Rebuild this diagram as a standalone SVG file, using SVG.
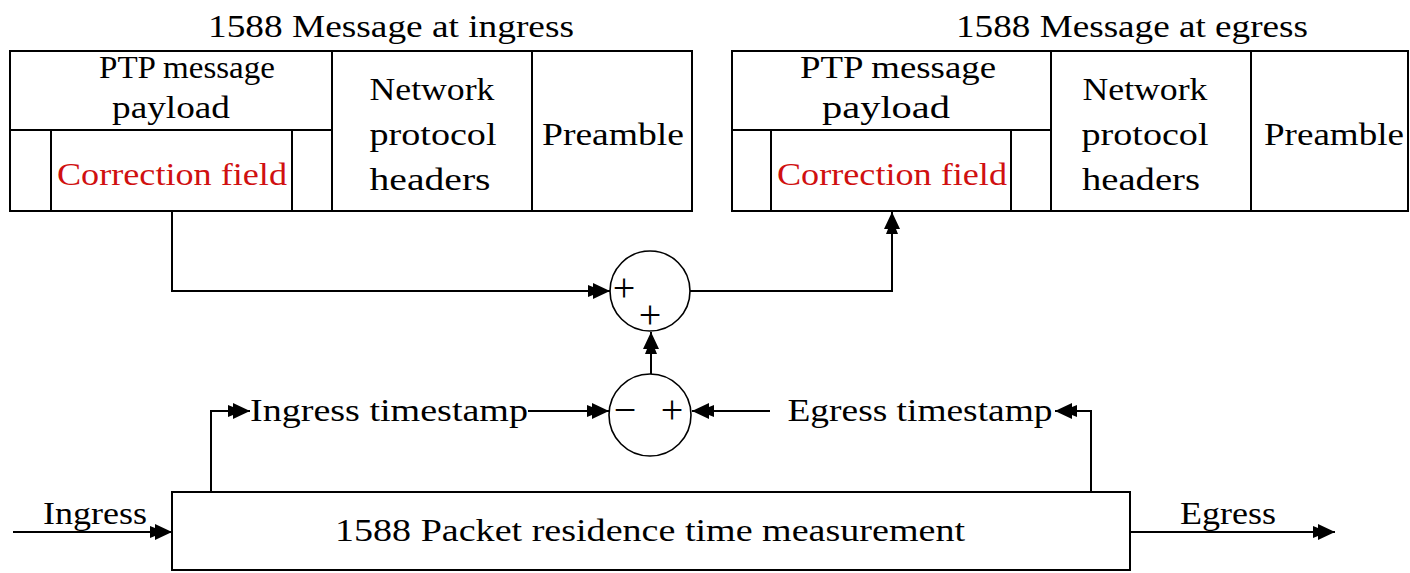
<svg xmlns="http://www.w3.org/2000/svg" width="1410" height="573" viewBox="0 0 1410 573">
  <style>
    .box { fill: #fff; stroke: #000; stroke-width: 2; }
    .ln { fill: none; stroke: #000; stroke-width: 2; }
    .sum { fill: #fff; stroke: #000; stroke-width: 1.6; }
    .t { font-family: "Liberation Serif", "DejaVu Serif", serif; font-size: 31px; fill: #000; text-anchor: middle; }
    .red { fill: #d01010; }
    .sign { font-family: "Liberation Serif", "DejaVu Serif", serif; font-size: 40px; fill: #000; text-anchor: middle; }
  </style>
  <defs>
    <marker id="arrow" markerUnits="userSpaceOnUse" viewBox="-24 -10 26 20" refX="0" refY="0" markerWidth="26" markerHeight="20" orient="auto">
      <path d="M0,0 L-17,-8 L-17,-4 L-22,-6 L-22,6 L-17,4 L-17,8 Z" fill="#000"/>
    </marker>
  </defs>
  <rect width="1410" height="573" fill="#fff"/>

  <!-- frame layout as received -->
  <g id="msg-ingress">
    <text class="t" x="391" y="37" textLength="366" lengthAdjust="spacingAndGlyphs">1588 Message at ingress</text>
    <rect class="box" x="10" y="51" width="682" height="160"/>
    <line class="ln" x1="10" y1="130" x2="332" y2="130"/>
    <line class="ln" x1="332" y1="51" x2="332" y2="211"/>
    <line class="ln" x1="532" y1="51" x2="532" y2="211"/>
    <line class="ln" x1="51" y1="130" x2="51" y2="211"/>
    <line class="ln" x1="292" y1="130" x2="292" y2="211"/>
    <text class="t" x="187" y="78" textLength="176" lengthAdjust="spacingAndGlyphs">PTP message</text>
    <text class="t" x="171" y="118" textLength="118" lengthAdjust="spacingAndGlyphs">payload</text>
    <text class="t red" x="172" y="185" textLength="230" lengthAdjust="spacingAndGlyphs">Correction field</text>
    <text class="t" x="432" y="100" textLength="125" lengthAdjust="spacingAndGlyphs">Network</text>
    <text class="t" x="433" y="145" textLength="127" lengthAdjust="spacingAndGlyphs">protocol</text>
    <text class="t" x="430" y="190" textLength="121" lengthAdjust="spacingAndGlyphs">headers</text>
    <text class="t" x="613" y="145" textLength="142" lengthAdjust="spacingAndGlyphs">Preamble</text>
  </g>

  <!-- frame layout as transmitted -->
  <g id="msg-egress">
    <text class="t" x="1132" y="37" textLength="352" lengthAdjust="spacingAndGlyphs">1588 Message at egress</text>
    <rect class="box" x="732" y="51" width="676" height="160"/>
    <line class="ln" x1="732" y1="130" x2="1051" y2="130"/>
    <line class="ln" x1="1051" y1="51" x2="1051" y2="211"/>
    <line class="ln" x1="1251" y1="51" x2="1251" y2="211"/>
    <line class="ln" x1="771" y1="130" x2="771" y2="211"/>
    <line class="ln" x1="1011" y1="130" x2="1011" y2="211"/>
    <text class="t" x="898" y="78" textLength="196" lengthAdjust="spacingAndGlyphs">PTP message</text>
    <text class="t" x="886" y="118" textLength="128" lengthAdjust="spacingAndGlyphs">payload</text>
    <text class="t red" x="892" y="185" textLength="230" lengthAdjust="spacingAndGlyphs">Correction field</text>
    <text class="t" x="1145" y="100" textLength="125" lengthAdjust="spacingAndGlyphs">Network</text>
    <text class="t" x="1145" y="145" textLength="127" lengthAdjust="spacingAndGlyphs">protocol</text>
    <text class="t" x="1141" y="190" textLength="118" lengthAdjust="spacingAndGlyphs">headers</text>
    <text class="t" x="1334" y="145" textLength="140" lengthAdjust="spacingAndGlyphs">Preamble</text>
  </g>

  <!-- correction adder -->
  <g id="adder">
    <circle class="sum" cx="650" cy="291" r="40"/>
    <text class="sign" x="624" y="301">+</text>
    <text class="sign" x="650" y="328">+</text>
  </g>

  <!-- timestamp subtractor -->
  <g id="subtractor">
    <circle class="sum" cx="650" cy="415" r="41"/>
    <text class="sign" x="625" y="423">−</text>
    <text class="sign" x="672" y="423">+</text>
  </g>

  <!-- residence time block -->
  <g id="residence">
    <rect class="box" x="172" y="492" width="958" height="78"/>
    <text class="t" x="650" y="541" textLength="630" lengthAdjust="spacingAndGlyphs">1588 Packet residence time measurement</text>
  </g>

  <g id="labels">
    <text class="t" x="95" y="524" textLength="104" lengthAdjust="spacingAndGlyphs">Ingress</text>
    <text class="t" x="1228" y="524" textLength="96" lengthAdjust="spacingAndGlyphs">Egress</text>
    <text class="t" x="389" y="421" textLength="278" lengthAdjust="spacingAndGlyphs">Ingress timestamp</text>
    <text class="t" x="920" y="421" textLength="265" lengthAdjust="spacingAndGlyphs">Egress timestamp</text>
  </g>

  <g id="connectors">
    <!-- ingress correction into adder -->
    <polyline class="ln" points="172,211 172,291 610,291" marker-end="url(#arrow)"/>
    <!-- adder output to egress correction field -->
    <polyline class="ln" points="690,291 892,291 892,212" marker-end="url(#arrow)"/>
    <!-- difference into adder -->
    <line class="ln" x1="651" y1="374" x2="651" y2="332" marker-end="url(#arrow)"/>
    <!-- ingress timestamp tap -->
    <polyline class="ln" points="211,492 211,411 250,411" marker-end="url(#arrow)"/>
    <line class="ln" x1="528" y1="411" x2="609" y2="411" marker-end="url(#arrow)"/>
    <!-- egress timestamp tap -->
    <polyline class="ln" points="1091,492 1091,411 1055,411" marker-end="url(#arrow)"/>
    <line class="ln" x1="770" y1="411" x2="692" y2="411" marker-end="url(#arrow)"/>
    <!-- packet flow -->
    <line class="ln" x1="13" y1="532" x2="172" y2="532" marker-end="url(#arrow)"/>
    <line class="ln" x1="1130" y1="532" x2="1335" y2="532" marker-end="url(#arrow)"/>
  </g>
</svg>
